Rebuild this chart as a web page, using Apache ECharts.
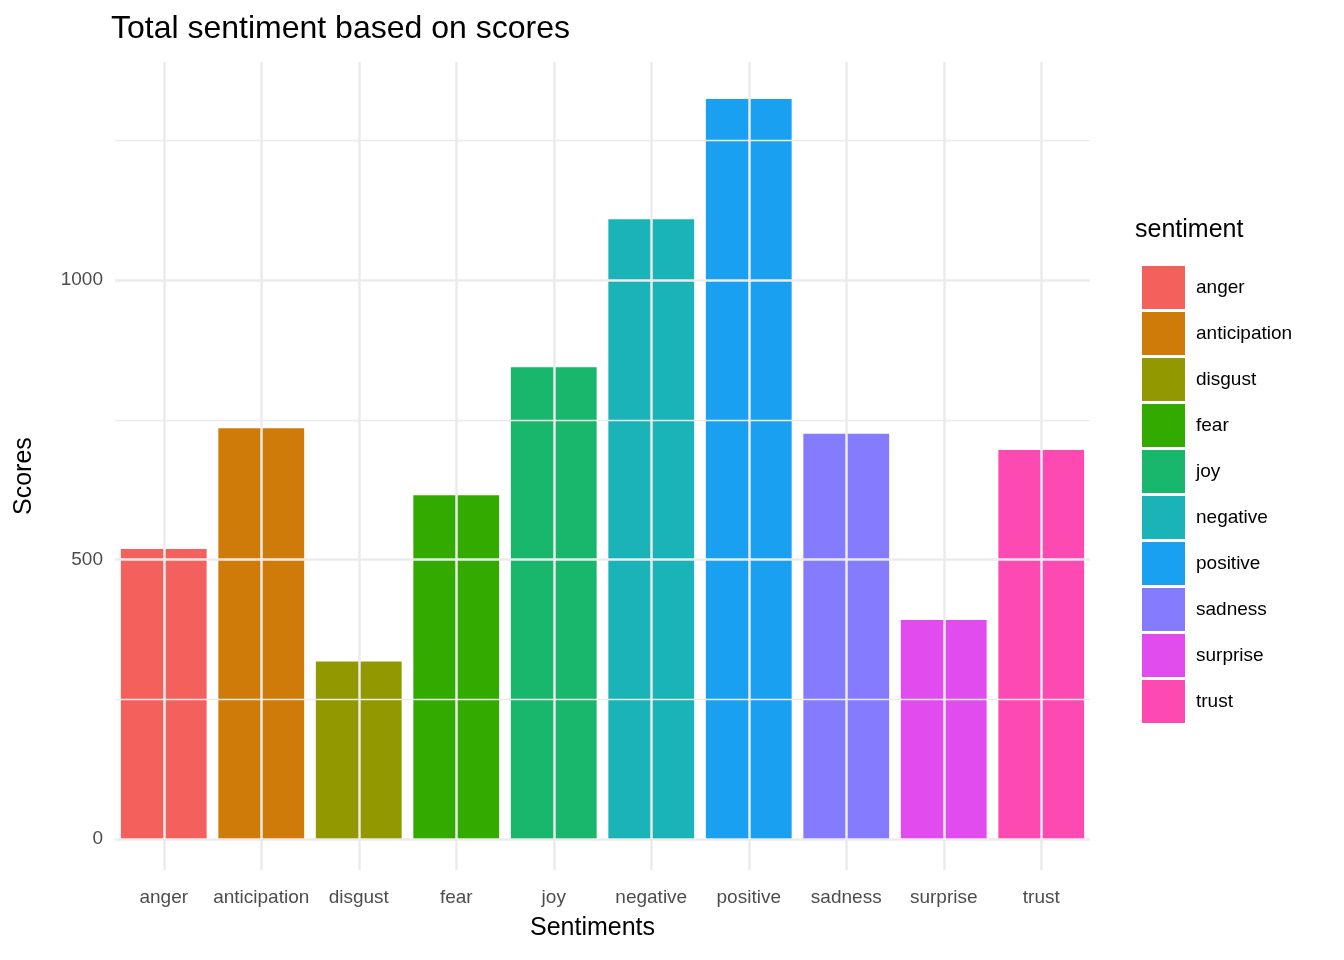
<!DOCTYPE html>
<html>
<head>
<meta charset="utf-8">
<script src="https://cdn.jsdelivr.net/npm/echarts@6/dist/echarts.min.js"></script>
<style>html,body{margin:0;background:#fff}</style>
</head>
<body>
<div id="main" style="width:1344px;height:960px;"></div>
<script>
const categories = ['anger', 'anticipation', 'disgust', 'fear', 'joy', 'negative', 'positive', 'sadness', 'surprise', 'trust'];
const scores = [519, 735, 318, 615, 844, 1109, 1324, 725, 392, 696];
const colors = ['#F8766D', '#D39200', '#93AA00', '#00BA38', '#00C19F', '#00B9E3', '#1AA0F0', '#8983FF', '#DB72FB', '#FF61C3'];
colors[4] = '#19B76C'; colors[5] = '#1AB3B8'; colors[3] = '#33AA00'; colors[7] = '#857BFF'; colors[8] = '#E14CEF'; colors[9] = '#FD4AB2'; colors[1] = '#CF7B09'; colors[2] = '#929900'; colors[0] = '#F4615C';
const majorTicks = [0, 500, 1000];
const minorTicks = [250, 750, 1250];

const myChart = echarts.init(document.getElementById('main'));
const fontFamily = 'Liberation Sans, Arial, sans-serif';

const gridLines = {
  name: '_grid', type: 'line', data: [], z: 0, silent: true,
  markLine: {
    symbol: 'none', silent: true, animation: false,
    data: [
      ...categories.map(c => ({ xAxis: c, lineStyle: { color: '#EBEBEB', width: 2.5, type: 'solid' }, label: { show: false } })),
      ...minorTicks.map(v => ({ yAxis: v, lineStyle: { color: '#EBEBEB', width: 1.3, type: 'solid' }, label: { show: false } })),
      ...majorTicks.map(v => ({ yAxis: v, lineStyle: { color: '#EBEBEB', width: 2.5, type: 'solid' },
        label: { show: true, position: 'start', formatter: String(v), color: '#4D4D4D', fontSize: 19, fontFamily, distance: 12 } }))
    ]
  }
};

const barSeries = categories.map((c, i) => ({
  name: c, type: 'bar', stack: 's', z: 2,
  barWidth: '88%',
  itemStyle: { color: colors[i] },
  data: categories.map((_, j) => j === i ? scores[i] : null)
}));

myChart.setOption({
  animation: false,
  title: { text: 'Total sentiment based on scores', left: 106, top: 8, textStyle: { fontSize: 32, fontWeight: 'normal', color: '#000', fontFamily } },
  grid: { left: 115, right: 254, top: 62, bottom: 90 },
  xAxis: {
    type: 'category', data: categories,
    axisLine: { show: false }, axisTick: { show: false },
    axisLabel: { color: '#4D4D4D', fontSize: 19, fontFamily, margin: 18, interval: 0 }
  },
  yAxis: { type: 'value', min: -55, max: 1390, axisLabel: { show: false }, splitLine: { show: false }, axisLine: { show: false }, axisTick: { show: false } },
  legend: {
    data: categories, orient: 'vertical', left: 1137, top: 261,
    itemWidth: 43, itemHeight: 43, itemGap: 3, icon: 'rect',
    textStyle: { fontSize: 19, fontFamily, color: '#000', padding: [0, 0, 0, 6] }
  },
  graphic: [
    { type: 'text', left: 1135, top: 218, style: { text: 'sentiment', fontSize: 25, fontFamily, fill: '#000' } },
    { type: 'text', left: 530, top: 916, style: { text: 'Sentiments', fontSize: 25, fontFamily, fill: '#000' } },
    { type: 'text', x: 12, y: 515, rotation: Math.PI / 2, style: { text: 'Scores', fontSize: 25, fontFamily, fill: '#000' } }
  ],
  series: [gridLines, ...barSeries]
});
</script>
</body>
</html>
